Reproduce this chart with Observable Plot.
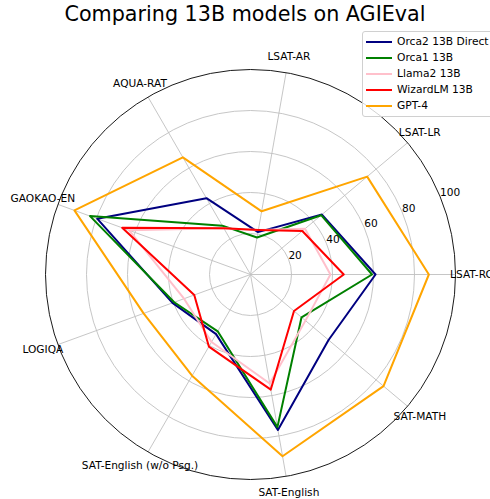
<!DOCTYPE html>
<html>
<head>
<meta charset="utf-8">
<script src="https://cdn.jsdelivr.net/npm/d3@7"></script>
<script src="https://cdn.jsdelivr.net/npm/@observablehq/plot@0.6"></script>
<style>
  html, body { margin: 0; padding: 0; background: #fff; overflow: hidden; }
  #wrap { position: relative; width: 490px; height: 499px; font-family: "DejaVu Sans", sans-serif; }
  #title { position: absolute; left: 0; top: 1px; width: 490px; text-align: center; font-size: 20.7px; line-height: 26px; color: #000; }
  #legend { position: absolute; left: 362px; top: 31px; width: 140px; height: 84px; border: 1px solid #d0d0d0; border-radius: 3px; background: rgba(255,255,255,0.8); font-size: 10.7px; color: #000; }
  .item { position: absolute; left: 0; height: 16px; display: flex; align-items: center; }
  .sw { position: absolute; left: 3px; width: 26px; height: 0; border-top: 2px solid; }
  .lb { position: absolute; left: 34px; white-space: nowrap; line-height: 12px; }
  #chart { position: absolute; left: 0; top: 0; }
</style>
</head>
<body>
<div id="wrap">
  <div id="chart"></div>
  <div id="title">Comparing 13B models on AGIEval</div>
  <div id="legend"></div>
</div>
<script>
const categories = ["LSAT-RC", "LSAT-LR", "LSAT-AR", "AQUA-RAT", "GAOKAO-EN", "LOGIQA", "SAT-English (w/o Psg.)", "SAT-English", "SAT-MATH"];
const seriesNames = ["Orca2 13B Direct", "Orca1 13B", "Llama2 13B", "WizardLM 13B", "GPT-4"];
const seriesColors = ["#000080", "#008000", "#ffc0cb", "#ff0000", "#ffa500"];
const orca2 = [61, 45.5, 21, 43, 79.6, 40.5, 33.6, 77, 49.7];
const orca1 = [59.3, 45, 18.3, 27.5, 83.3, 39.6, 32, 75.6, 32.5];
const llama2 = [39, 34.7, 22, 26, 63, 34.5, 38, 54, 35];
const wizardlm = [45.5, 33, 22.1, 26, 66.6, 29.2, 40.6, 57, 27.7];
const gpt4 = [87, 74.3, 31.3, 66, 91.4, 55.5, 57, 90, 84.7];
const ringTicks = [20, 40, 60, 80, 100];

const seriesValues = [orca2, orca1, llama2, wizardlm, gpt4];
const n = categories.length;
const angleOf = i => (i * 2 * Math.PI) / n;
const tickAngle = Math.PI / 8;
const labelRadius = 107.8;

const points = [];
seriesNames.forEach((name, s) => {
  seriesValues[s].forEach((v, i) => {
    points.push({name, s, cat: categories[i], v, x: v * Math.cos(angleOf(i)), y: v * Math.sin(angleOf(i))});
  });
});
const spokes = categories.map((c, i) => ({c, x2: 100 * Math.cos(angleOf(i)), y2: 100 * Math.sin(angleOf(i))}));
const labels = categories.map((c, i) => ({c, x: labelRadius * Math.cos(angleOf(i)), y: labelRadius * Math.sin(angleOf(i))}));
const ticks = ringTicks.map(t => ({t, x: t * Math.cos(tickAngle), y: t * Math.sin(tickAngle)}));

const plot = Plot.plot({
  width: 490,
  height: 499,
  margin: 0,
  style: {fontFamily: "DejaVu Sans, sans-serif", fontSize: "10.6px", background: "transparent", overflow: "visible"},
  x: {domain: [-100, 100], range: [45, 455], axis: null},
  y: {domain: [-100, 100], range: [479, 69], axis: null},
  r: {type: "linear", domain: [0, 100], range: [0, 205]},
  color: {domain: seriesNames, range: seriesColors},
  marks: [
    Plot.dot(ringTicks.filter(t => t < 100), {x: () => 0, y: () => 0, r: d => d, stroke: "#c0c0c0", strokeWidth: 0.9, fill: "none"}),
    Plot.link(spokes, {x1: 0, y1: 0, x2: "x2", y2: "y2", stroke: "#c0c0c0", strokeWidth: 0.9}),
    Plot.dot([100], {x: () => 0, y: () => 0, r: d => d, stroke: "#000", strokeWidth: 0.9, fill: "none"}),
    Plot.line(points, {x: "x", y: "y", z: "name", stroke: "name", strokeWidth: 2, curve: "linear-closed"}),
    Plot.text(ticks, {x: "x", y: "y", text: d => String(d.t), textAnchor: "start", lineAnchor: "bottom", fill: "#000", fontSize: 10.6}),
    Plot.text(labels, {x: "x", y: "y", text: "c", textAnchor: "middle", lineAnchor: "middle", fill: "#000", fontSize: 10.6})
  ]
});
document.getElementById("chart").appendChild(plot);

const legend = document.getElementById("legend");
seriesNames.forEach((name, i) => {
  const item = document.createElement("div");
  item.className = "item";
  item.style.top = (2 + i * 16.1) + "px";
  const sw = document.createElement("span");
  sw.className = "sw";
  sw.style.borderTopColor = seriesColors[i];
  const lb = document.createElement("span");
  lb.className = "lb";
  lb.textContent = name;
  item.appendChild(sw);
  item.appendChild(lb);
  legend.appendChild(item);
});
</script>
</body>
</html>
